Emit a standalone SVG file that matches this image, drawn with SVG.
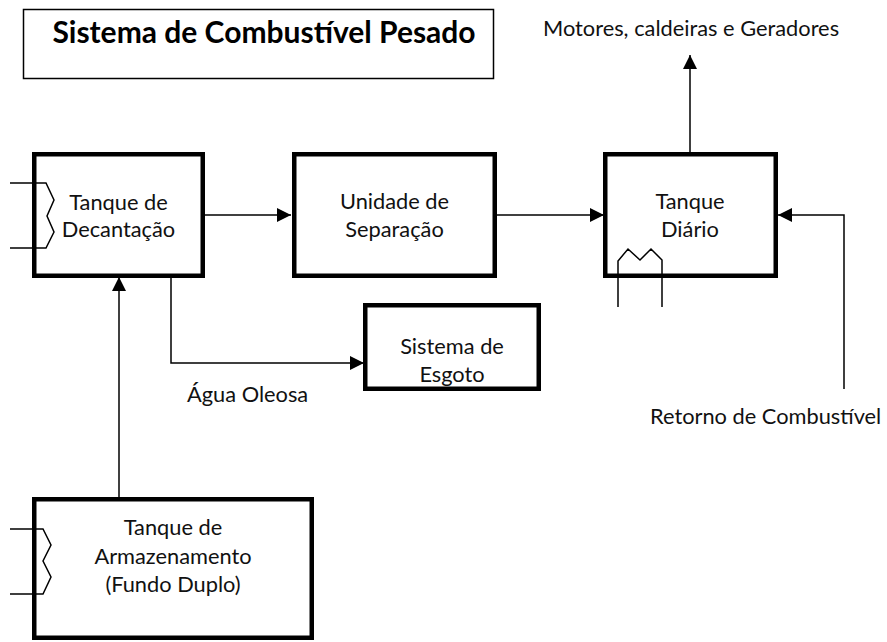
<svg xmlns="http://www.w3.org/2000/svg" width="887" height="642" viewBox="0 0 887 642">
<defs>
<marker id="arr" markerUnits="userSpaceOnUse" markerWidth="16" markerHeight="14" refX="14" refY="7" orient="auto">
<path d="M0,0 L14,7 L0,14 Z" fill="#000"/>
</marker>
<style>
.box{fill:#fff;stroke:#000;stroke-width:4.5;stroke-linejoin:miter}
.thin{fill:none;stroke:#000;stroke-width:1.5}
.t{font-family:Lato,"Open Sans","Liberation Sans",sans-serif;font-size:21.8px;fill:#111}
.c{text-anchor:middle}
.title{font-family:Lato,"Open Sans","Liberation Sans",sans-serif;font-size:30px;font-weight:bold;fill:#000;text-anchor:middle}
</style>
</defs>
<rect width="887" height="642" fill="#fff"/>
<g id="title">
<rect x="23.5" y="9.5" width="470" height="69" fill="#fff" stroke="#000" stroke-width="1.5"/>
<text class="title" x="264" y="43">Sistema de Combustível Pesado</text>
</g>
<g id="connectors">
<line class="thin" x1="205" y1="215" x2="291" y2="215" marker-end="url(#arr)"/>
<line class="thin" x1="497" y1="215" x2="604" y2="215" marker-end="url(#arr)"/>
<line class="thin" x1="690" y1="152" x2="690" y2="55" marker-end="url(#arr)"/>
<polyline class="thin" points="844,389 844,215 778,215" marker-end="url(#arr)"/>
<polyline class="thin" points="171,278 171,363 364,363" marker-end="url(#arr)"/>
<line class="thin" x1="119" y1="497" x2="119" y2="277" marker-end="url(#arr)"/>
</g>
<g id="decantacao">
<rect class="box" x="34.25" y="154.25" width="168.5" height="121.5"/>
<polyline class="thin" points="10,183 46,183 54,200 47,216 54,232 46,248 10,248"/>
<text class="t c" x="118.5" y="210">Tanque de</text>
<text class="t c" x="118.5" y="237">Decantação</text>
</g>
<g id="separacao">
<rect class="box" x="294.25" y="154.25" width="200.5" height="121.5"/>
<text class="t c" x="394.5" y="209">Unidade de</text>
<text class="t c" x="394.5" y="237">Separação</text>
</g>
<g id="diario">
<rect class="box" x="605.25" y="154.25" width="170.5" height="121.5"/>
<polyline class="thin" points="618,307 618,261 628,249 640,260 651,249 662,260 662,307"/>
<text class="t c" x="690" y="209">Tanque</text>
<text class="t c" x="690" y="237">Diário</text>
</g>
<g id="esgoto">
<rect class="box" x="365.25" y="305.25" width="173.5" height="83.5"/>
<text class="t c" x="452" y="354">Sistema de</text>
<text class="t c" x="452" y="382">Esgoto</text>
</g>
<g id="armazenamento">
<rect class="box" x="34.25" y="499.25" width="277.5" height="138.5"/>
<polyline class="thin" points="10,529 43,529 51,545 43,561 51,577 43,594 10,594"/>
<text class="t c" x="173" y="535">Tanque de</text>
<text class="t c" x="173" y="564">Armazenamento</text>
<text class="t c" x="173" y="592">(Fundo Duplo)</text>
</g>
<g id="labels">
<text class="t" x="187" y="402">Água Oleosa</text>
<text class="t" x="543" y="36">Motores, caldeiras e Geradores</text>
<text class="t" x="650" y="424">Retorno de Combustível</text>
</g>
</svg>
